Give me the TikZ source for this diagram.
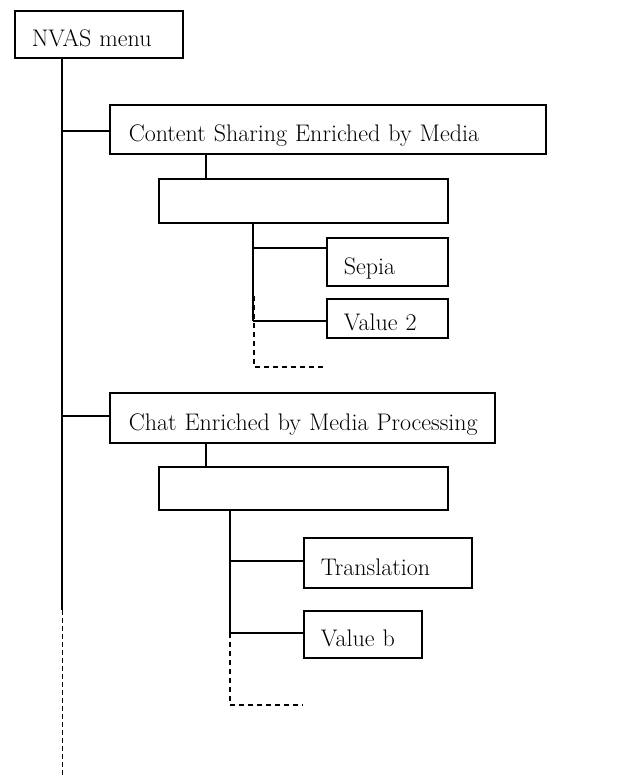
\documentclass[tikz,border=0pt]{standalone}
\usetikzlibrary{calc}
\begin{document}
\begin{tikzpicture}[x=1bp,y=-1bp,
  every node/.style={font=\fontsize{24bp}{28bp}\selectfont},
  mbox/.style args={#1/#2/#3}{draw,line width=1.6bp,anchor=north west,minimum width=#1bp,minimum height=#2bp,inner xsep=0pt,inner ysep=0pt,text width=#1bp,text height=30bp,text depth=5bp,align=left,execute at begin node={\hyphenpenalty=10000\hspace*{#3bp}}},
  conn/.style={line width=1.4bp},
  dconn/.style={line width=1.8bp,dash pattern=on 5bp off 4bp},
  mdash/.style={line width=0.9bp,dash pattern=on 5bp off 3bp}]
\useasboundingbox (0,0) rectangle (618,776);
\node[mbox=168/47/17] (nvas) at (14,10) {NVAS menu};
\node[mbox=436/49/19] (content) at (109,104) {Content Sharing Enriched by Media};
\node[mbox=289/44/10] (box1) at (158,178) {};
\node[mbox=121/48/17] (sepia) at (326,237) {Sepia};
\node[mbox=121/39/17] (value2) at (326,298) {Value 2};
\node[mbox=385/50/19] (chat) at (109,392) {Chat Enriched by Media Processing};
\node[mbox=289/43/10] (box2) at (158,466) {};
\node[mbox=168/50/17] (trans) at (303,537) {Translation};
\node[mbox=118/47/17] (valueb) at (303,610) {Value b};
% main trunk
\coordinate (m0) at (62,57);
\coordinate (b1) at (62,131);
\coordinate (b2) at (62,416);
\coordinate (m1) at (62,610);
\coordinate (m2) at (62,775);
\draw[conn] (m0) -- (m1);
\draw[mdash] (m1) -- (m2);
\draw[conn] (b1) -- (content.west |- b1);
\draw[conn] (b2) -- (chat.west |- b2);
% first group
\coordinate (c1) at (206,153);
\draw[conn] (c1) -- (c1 |- box1.north);
\coordinate (s0) at (253,222);
\coordinate (s1) at (253,248);
\coordinate (s2) at (253,321);
\draw[conn] (s0) -- (s2);
\draw[conn] (s1) -- (sepia.west |- s1);
\draw[conn] (s2) -- (value2.west |- s2);
\coordinate (d1) at (254,296);
\coordinate (d2) at (254,367);
\coordinate (d3) at (326,367);
\draw[dconn] (d1) -- (d2) -- (d3);
% second group
\coordinate (c2) at (206,442);
\draw[conn] (c2) -- (c2 |- box2.north);
\coordinate (t0) at (230,509);
\coordinate (t1) at (230,561);
\coordinate (t2) at (230,633);
\draw[conn] (t0) -- (t2);
\draw[conn] (t1) -- (trans.west |- t1);
\draw[conn] (t2) -- (valueb.west |- t2);
\coordinate (e2) at (230,705);
\coordinate (e3) at (303,705);
\draw[dconn] (t2) -- (e2) -- (e3);
\end{tikzpicture}
\end{document}
